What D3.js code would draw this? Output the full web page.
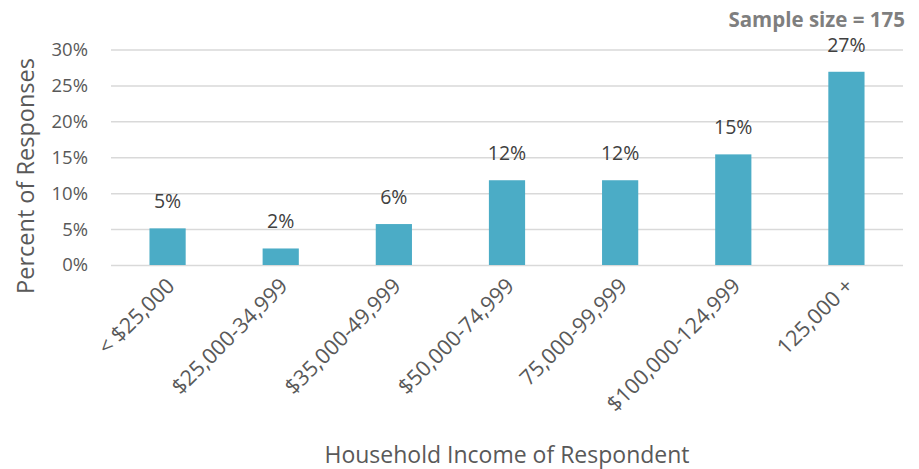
<!DOCTYPE html>
<html>
<head>
<meta charset="utf-8">
<script src="https://cdnjs.cloudflare.com/ajax/libs/d3/7.8.5/d3.min.js"></script>
<style>
  body { margin: 0; background: #fff; }
  svg text { font-family: "Open Sans", "Noto Sans", sans-serif; }
</style>
</head>
<body>
<svg id="chart"></svg>
<script>
// income brackets and share of responses (n = 175)
const categories = ['< $25,000', '$25,000-34,999', '$35,000-49,999', '$50,000-74,999', '75,000-99,999', '$100,000-124,999', '125,000 +'];
const values = [0.051, 0.023, 0.057, 0.118, 0.118, 0.154, 0.269];
const yTicks = [0, 0.05, 0.10, 0.15, 0.20, 0.25, 0.30];

const w = 919, h = 469;
const margin = {top: 49.5, right: 16, bottom: 204, left: 111};
const width = w - margin.left - margin.right,
      height = h - margin.top - margin.bottom;

const svg = d3.select('#chart').attr('width', w).attr('height', h);
const g = svg.append('g').attr('transform', 'translate(' + margin.left + ',' + margin.top + ')');

const x = d3.scaleBand().domain(categories).range([0, width]).paddingInner(0.68).paddingOuter(0.34);
const y = d3.scaleLinear().domain([0, 0.30]).range([height, 0]);
const pct = d3.format('.0%');

// gridlines + y labels
const yAxis = g.append('g')
    .call(d3.axisLeft(y).tickValues(yTicks).tickFormat(pct).tickSize(-width).tickPadding(23));
yAxis.select('.domain').remove();
yAxis.selectAll('line').attr('stroke', '#d9d9d9').attr('stroke-width', 1.5);
yAxis.selectAll('text').attr('fill', '#595959').style('font-size', '18.5px');

// bars
g.selectAll('.bar')
  .data(values)
  .enter().append('rect')
    .attr('class', 'bar')
    .attr('x', (d, i) => x(categories[i]))
    .attr('width', x.bandwidth())
    .attr('y', d => y(d))
    .attr('height', d => height - y(d))
    .attr('fill', '#4bacc6');

// value labels
g.selectAll('.val')
  .data(values)
  .enter().append('text')
    .attr('class', 'val')
    .attr('x', (d, i) => x(categories[i]) + x.bandwidth() / 2)
    .attr('y', d => y(d) - 20)
    .attr('text-anchor', 'middle')
    .attr('fill', '#404040')
    .style('font-size', '19.5px')
    .text(d => pct(d));

// x labels, rotated
g.selectAll('.xlab')
  .data(categories)
  .enter().append('text')
    .attr('class', 'xlab')
    .attr('transform', d => 'translate(' + (x(d) + x.bandwidth() / 2 + 3) + ',' + (height + 17) + ') rotate(-45)')
    .attr('text-anchor', 'end')
    .attr('dy', '0.35em')
    .attr('fill', '#595959')
    .style('font-size', '21.5px')
    .text(d => d);

// axis titles
svg.append('text')
    .attr('transform', 'translate(' + (margin.left + width / 2) + ',463)')
    .attr('text-anchor', 'middle')
    .attr('fill', '#595959')
    .style('font-size', '23px')
    .text('Household Income of Respondent');

svg.append('text')
    .attr('transform', 'translate(34,176) rotate(-90)')
    .attr('text-anchor', 'middle')
    .attr('fill', '#595959')
    .style('font-size', '23.5px')
    .text('Percent of Responses');

svg.append('text')
    .attr('x', 905)
    .attr('y', 27)
    .attr('text-anchor', 'end')
    .attr('fill', '#7f7f7f')
    .style('font-size', '20.5px')
    .style('font-weight', 'bold')
    .text('Sample size = 175');
</script>
</body>
</html>
